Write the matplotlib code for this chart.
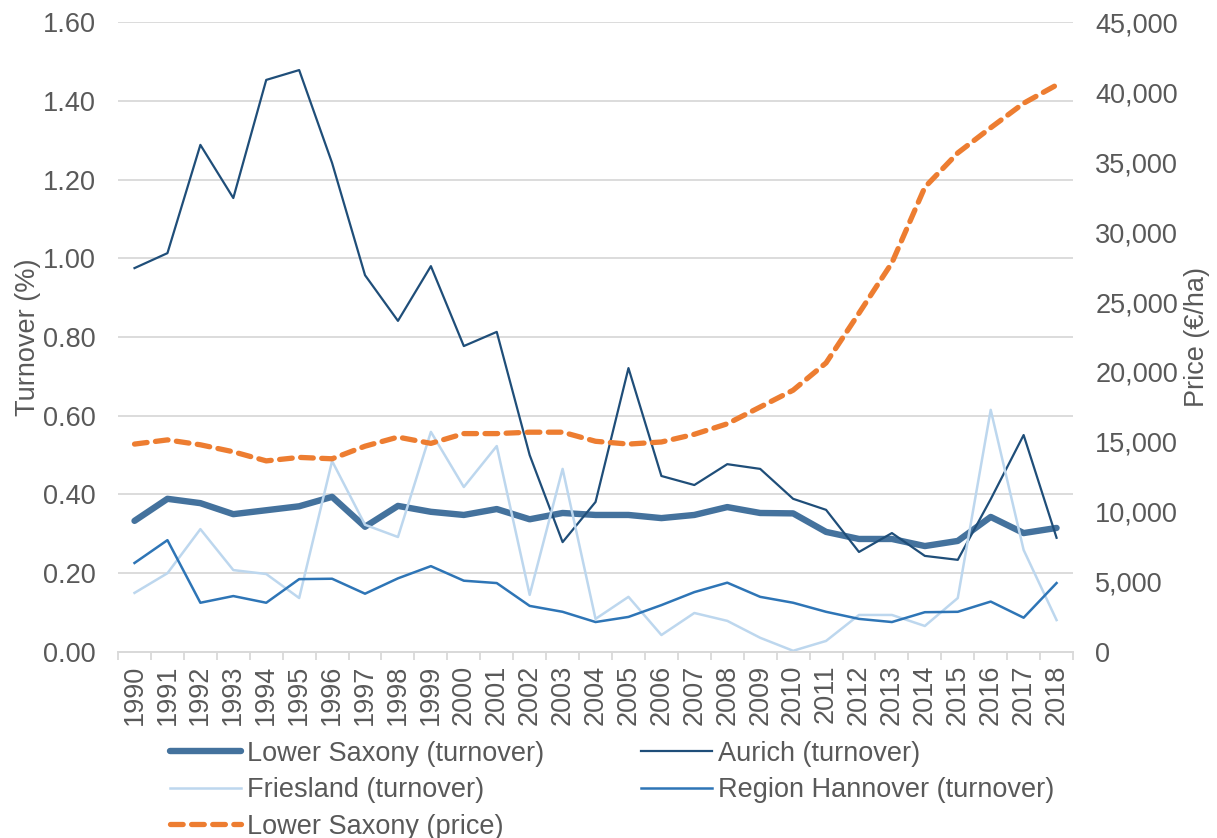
import numpy as np
import matplotlib.pyplot as plt
from matplotlib.ticker import FuncFormatter, MultipleLocator

plt.rcParams['font.family'] = ['Liberation Sans', 'DejaVu Sans']

years = list(range(1990, 2019))

lower_saxony = [0.333, 0.389, 0.378, 0.350, 0.360, 0.370, 0.394, 0.318, 0.371, 0.356,
                0.348, 0.363, 0.337, 0.353, 0.348, 0.348, 0.340, 0.348, 0.368, 0.353,
                0.352, 0.305, 0.287, 0.287, 0.269, 0.282, 0.343, 0.302, 0.315]
aurich = [0.975, 1.013, 1.288, 1.153, 1.453, 1.478, 1.242, 0.957, 0.841, 0.980,
          0.777, 0.813, 0.500, 0.279, 0.381, 0.721, 0.447, 0.424, 0.477, 0.465,
          0.389, 0.361, 0.254, 0.302, 0.244, 0.234, 0.388, 0.551, 0.290]
friesland = [0.150, 0.200, 0.312, 0.208, 0.198, 0.137, 0.485, 0.323, 0.292, 0.559,
             0.419, 0.523, 0.145, 0.465, 0.084, 0.140, 0.043, 0.099, 0.079, 0.036,
             0.003, 0.028, 0.094, 0.094, 0.066, 0.137, 0.615, 0.259, 0.081]
hannover = [0.226, 0.284, 0.125, 0.142, 0.125, 0.185, 0.186, 0.148, 0.187, 0.218,
            0.181, 0.175, 0.117, 0.102, 0.076, 0.089, 0.119, 0.152, 0.176, 0.140,
            0.125, 0.102, 0.084, 0.076, 0.101, 0.102, 0.128, 0.087, 0.175]
price = [14850, 15150, 14800, 14300, 13650, 13900, 13800, 14700, 15350, 14900,
         15600, 15600, 15700, 15700, 15050, 14850, 15000, 15550, 16300, 17500,
         18700, 20650, 24200, 27800, 33200, 35650, 37450, 39200, 40500]

grey = '#595959'
fs = 19.5

fig = plt.figure(figsize=(12.17, 8.38), dpi=100)
ax = fig.add_axes([0.097, 0.222, 0.7847, 0.7517])
ax2 = ax.twinx()

l1, = ax.plot(years, lower_saxony, color='#44729d', linewidth=4.6, solid_capstyle='round',
              solid_joinstyle='round', label='Lower Saxony (turnover)')
l2, = ax.plot(years, aurich, color='#1f4e79', linewidth=1.6, label='Aurich (turnover)')
l3, = ax.plot(years, friesland, color='#bdd7ee', linewidth=1.8, label='Friesland (turnover)')
l4, = ax.plot(years, hannover, color='#2e75b6', linewidth=1.8, label='Region Hannover (turnover)')
l5, = ax2.plot(years, price, color='#ed7d31', linewidth=3.8, linestyle=(0, (2.4, 1.6)),
               dash_capstyle='round', label='Lower Saxony (price)')

ax.set_xlim(1989.5, 2018.5)
ax.set_ylim(0, 1.6)
ax2.set_ylim(0, 45000)
ax.yaxis.set_major_locator(MultipleLocator(0.2))
ax2.yaxis.set_major_locator(MultipleLocator(5000))
ax.yaxis.set_major_formatter(FuncFormatter(lambda v, p: f'{v:.2f}'))
ax2.yaxis.set_major_formatter(FuncFormatter(lambda v, p: f'{int(v):,}'))

ax.grid(axis='y', color='#d9d9d9', linewidth=1.3)
ax.set_axisbelow(True)

for a in (ax, ax2):
    for s in ('top', 'left', 'right'):
        a.spines[s].set_visible(False)
    a.spines['bottom'].set_color('#d9d9d9')
    a.spines['bottom'].set_linewidth(1.3)

ax.set_xticks(years)
ax.set_xticklabels([str(y) for y in years], rotation=90)
ax.set_xticks(np.arange(1989.5, 2019, 1), minor=True)
ax.tick_params(axis='x', which='major', length=0, pad=9, labelsize=fs, labelcolor=grey)
ax.tick_params(axis='x', which='minor', length=6, width=1.3, color='#d9d9d9')
ax.tick_params(axis='y', length=0, pad=16, labelsize=fs, labelcolor=grey)
ax2.tick_params(axis='y', length=0, pad=16, labelsize=fs, labelcolor=grey)

ax.set_ylabel('Turnover (%)', fontsize=fs, color=grey, labelpad=1)
ax2.set_ylabel('Price (€/ha)', fontsize=fs, color=grey, labelpad=4)

fig.legend([l1, l3, l5, l2, l4],
           [l.get_label() for l in (l1, l3, l5, l2, l4)],
           ncol=2, loc='upper left', bbox_to_anchor=(0.14, 0.116),
           frameon=False, fontsize=fs, labelcolor=grey, handlelength=2.6,
           handletextpad=0.22, columnspacing=3.6, labelspacing=0.39,
           borderaxespad=0, borderpad=0)

fig.savefig('out.png', dpi=100)
